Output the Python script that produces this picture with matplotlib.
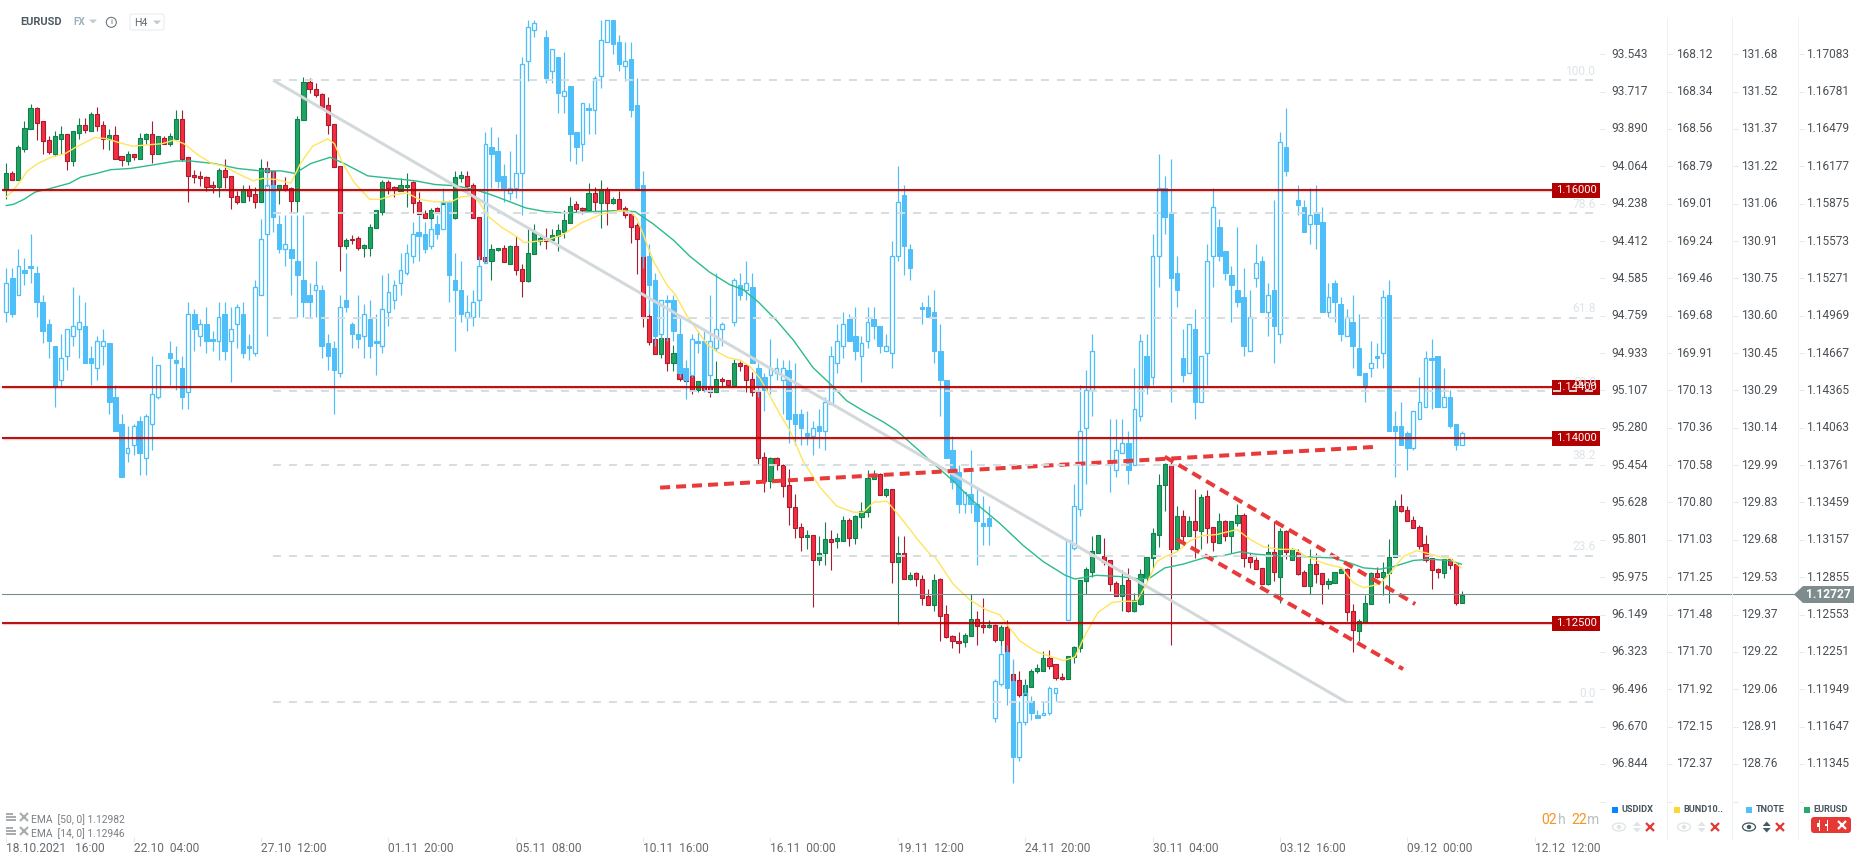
import matplotlib
matplotlib.use('Agg')
import matplotlib.pyplot as plt
import numpy as np
from matplotlib.patches import Rectangle, FancyBboxPatch, Circle, Ellipse, Polygon

plt.rcParams['font.family'] = ['Roboto', 'DejaVu Sans']
nan = float('nan')

# EURUSD H4 quotes, in 1/10000
eur_open = [11599,11612,11607,11632,11648,11665,11654,11639,11628,11640,
    11644,11622,11645,11651,11646,11660,11651,11640,11643,11626,
    11622,11628,11624,11640,11644,11628,11641,11636,11640,11656,
    11625,11611,11610,11609,11603,11601,11615,11610,11594,11589,
    11599,11595,11589,11616,11614,11599,11603,11600,11590,11655,
    11686,11680,11676,11667,11652,11618,11553,11559,11560,11552,
    11552,11568,11581,11605,11601,11598,11601,11605,11589,11580,
    11576,11584,11587,11589,11576,11608,11610,11603,11577,11544,
    11541,11550,11552,11539,11553,11535,11525,11547,11557,11560,
    11558,11561,11565,11572,11587,11584,11582,11596,11588,11599,
    11588,11591,11584,11579,11570,11560,11497,11478,11466,11479,
    11459,11459,11448,11448,11437,11441,11440,11435,11446,11445,
    11440,11459,11457,11446,11436,11383,11363,11382,11376,11360,
    11342,11326,11318,11320,11299,11305,11316,11315,11315,11332,
    11317,11334,11338,11365,11369,11352,11357,11298,11305,11284,
    11289,11284,11270,11263,11284,11256,11238,11234,11233,11238,
    11252,11247,11245,11247,11235,11245,11207,11202,11190,11197,
    11210,11210,11220,11215,11205,11203,11221,11228,11282,11290,
    11305,11303,11299,11281,11270,11283,11258,11264,11285,11301,
    11320,11360,11377,11308,11335,11319,11331,11323,11351,11326,
    11313,11331,11319,11329,11336,11302,11299,11293,11280,11306,
    11286,11323,11299,11306,11290,11278,11296,11289,11280,11281,
    11289,11292,11258,11242,11249,11264,11289,11286,11289,11302,
    11343,11340,11332,11326,11312,11301,11292,11289,11300,11296,
    11265]
eur_close = [11612,11607,11633,11649,11665,11653,11638,11629,11642,11644,
    11622,11646,11651,11647,11660,11650,11640,11643,11624,11623,
    11628,11625,11641,11644,11628,11642,11636,11642,11656,11624,
    11610,11609,11608,11601,11601,11615,11609,11593,11589,11599,
    11594,11589,11616,11613,11600,11603,11599,11590,11656,11686,
    11680,11675,11666,11651,11617,11553,11558,11558,11552,11554,
    11569,11582,11605,11600,11599,11603,11603,11588,11579,11576,
    11582,11580,11589,11585,11609,11611,11602,11576,11543,11541,
    11551,11552,11540,11553,11534,11525,11548,11565,11560,11557,
    11562,11566,11574,11586,11583,11582,11596,11589,11599,11588,
    11591,11582,11578,11569,11559,11496,11476,11466,11479,11459,
    11467,11446,11444,11437,11444,11437,11435,11446,11444,11441,
    11459,11456,11445,11435,11382,11363,11382,11376,11359,11342,
    11325,11318,11320,11299,11305,11316,11314,11317,11332,11317,
    11335,11339,11366,11369,11352,11357,11298,11305,11284,11287,
    11284,11269,11263,11283,11254,11237,11234,11232,11239,11252,
    11246,11245,11247,11235,11245,11223,11201,11190,11198,11210,
    11212,11220,11214,11204,11203,11222,11229,11283,11292,11307,
    11320,11298,11280,11270,11279,11258,11267,11288,11302,11321,
    11360,11377,11308,11335,11319,11331,11324,11350,11325,11314,
    11331,11319,11331,11336,11301,11298,11292,11280,11306,11290,
    11323,11306,11308,11288,11278,11296,11288,11280,11282,11290,
    11292,11257,11243,11250,11265,11289,11286,11290,11302,11343,
    11339,11331,11325,11311,11299,11291,11290,11300,11295,11265,
    11271]
eur_high = [11620,11614,11635,11654,11668,11666,11654,11642,11646,11650,
    11644,11646,11657,11657,11662,11666,11654,11648,11650,11626,
    11630,11628,11645,11645,11654,11642,11642,11645,11663,11663,
    11625,11615,11614,11610,11606,11616,11624,11610,11598,11603,
    11603,11601,11624,11622,11614,11603,11609,11601,11658,11690,
    11689,11685,11677,11674,11652,11618,11560,11562,11561,11555,
    11571,11582,11607,11607,11602,11608,11612,11606,11597,11582,
    11584,11585,11590,11589,11614,11614,11614,11604,11577,11544,
    11555,11552,11554,11554,11561,11539,11567,11571,11562,11568,
    11567,11571,11582,11593,11590,11585,11604,11601,11607,11601,
    11593,11598,11586,11581,11572,11568,11504,11481,11482,11479,
    11473,11466,11450,11448,11444,11442,11442,11460,11447,11445,
    11462,11460,11458,11451,11436,11387,11383,11383,11377,11373,
    11353,11329,11324,11320,11319,11330,11324,11321,11335,11333,
    11336,11346,11372,11372,11370,11358,11357,11319,11319,11290,
    11290,11287,11276,11288,11285,11263,11239,11241,11240,11272,
    11258,11269,11251,11248,11247,11251,11217,11210,11203,11211,
    11215,11226,11227,11215,11208,11222,11230,11283,11294,11319,
    11320,11317,11299,11282,11291,11293,11273,11292,11302,11325,
    11369,11378,11381,11343,11340,11335,11357,11353,11356,11326,
    11337,11332,11331,11345,11337,11305,11302,11293,11312,11331,
    11325,11324,11309,11308,11291,11308,11305,11289,11285,11290,
    11293,11293,11264,11252,11271,11290,11294,11298,11316,11348,
    11353,11343,11335,11328,11320,11301,11293,11300,11301,11297,
    11274]
eur_low = [11591,11607,11607,11629,11648,11639,11628,11628,11626,11628,
    11615,11618,11640,11645,11646,11646,11632,11631,11624,11618,
    11619,11623,11624,11636,11620,11628,11636,11634,11640,11622,
    11589,11604,11602,11598,11596,11593,11600,11583,11587,11589,
    11590,11584,11589,11602,11597,11587,11598,11580,11581,11655,
    11677,11674,11665,11644,11617,11533,11551,11555,11550,11544,
    11545,11568,11578,11595,11593,11598,11585,11580,11579,11576,
    11568,11580,11587,11585,11575,11605,11601,11576,11543,11540,
    11526,11549,11540,11539,11530,11512,11524,11547,11554,11551,
    11557,11549,11560,11572,11581,11579,11582,11581,11568,11570,
    11587,11582,11576,11556,11531,11488,11473,11466,11463,11452,
    11452,11444,11443,11434,11435,11436,11431,11435,11440,11440,
    11439,11452,11435,11432,11377,11354,11358,11372,11350,11328,
    11317,11307,11308,11261,11295,11295,11291,11309,11315,11311,
    11312,11325,11334,11365,11352,11350,11281,11248,11284,11283,
    11278,11263,11263,11258,11234,11236,11228,11224,11229,11238,
    11231,11240,11244,11233,11225,11223,11201,11189,11190,11197,
    11208,11210,11211,11202,11202,11203,11216,11225,11272,11286,
    11305,11295,11274,11270,11258,11257,11257,11263,11282,11293,
    11310,11339,11231,11307,11313,11319,11301,11308,11313,11307,
    11313,11315,11305,11327,11294,11293,11292,11280,11279,11282,
    11265,11300,11299,11287,11278,11272,11281,11264,11276,11281,
    11289,11250,11225,11234,11249,11264,11285,11271,11265,11302,
    11338,11331,11325,11308,11298,11276,11285,11285,11292,11263,
    11265]

# TNOTE quotes, in 1/100
t_open = [13062,13076,13069,13079,13081,13078,13066,13057,13048,13034,
    13044,13052,13055,13056,13043,13039,13048,13049,13027,13016,
    13004,13007,13017,13002,13016,13027,nan,13045,13042,13039,
    13029,13061,13052,13057,13051,13050,13061,13050,13057,13061,
    13048,13045,13069,13094,13114,13098,13088,13088,13083,13075,
    13069,13071,13071,13049,13047,13037,13067,13057,13053,13052,
    13059,13050,13048,13062,13067,13074,13078,13085,13095,13094,
    13089,13098,13096,13107,13075,13071,13060,13060,13067,13082,
    13130,13128,13118,13111,13113,13119,13165,13178,nan,13175,
    13161,13167,13151,13155,13136,13131,13146,13145,13159,13173,
    13182,13173,13163,13166,13147,13114,13085,13075,13053,13067,
    13067,13053,13039,13036,13050,13050,13036,13047,13055,nan,
    13058,13073,13071,13072,13039,13035,13036,13037,13034,13038,
    13020,13020,13012,13011,13015,13013,13024,13041,13048,13059,
    13052,13044,13050,13059,13056,13046,13045,13085,13110,13088,
    nan,13064,13064,13062,13046,13034,13005,12996,12983,12987,
    12983,12975,12977,12895,12909,12922,12910,12879,12893,12902,
    12896,12896,12897,12905,nan,12935,12965,12981,13014,13030,
    nan,nan,13000,12997,13004,13008,12999,13019,13044,13035,
    13085,13113,13103,13078,13043,13037,13055,13025,13045,13085,
    13097,13087,13077,13071,13068,13046,13076,13083,13062,13071,
    13053,13130,nan,13108,13105,13098,13103,13099,13062,13074,
    13065,13052,13058,13047,13037,13039,13044,13045,13069,13015,
    13015,13012,13006,13018,13023,13043,13044,13023,13027,13016,
    13007]
t_close = [13074,13061,13081,13078,13080,13066,13054,13050,13031,13043,
    13055,13056,13058,13041,13041,13050,13050,13025,13013,12994,
    13006,13015,13004,13019,13028,13040,nan,13043,13041,13027,
    13061,13055,13057,13050,13050,13060,13046,13055,13064,13045,
    13047,13072,13092,13114,13101,13088,13090,13084,13077,13066,
    13066,13073,13048,13044,13038,13064,13064,13053,13051,13061,
    13048,13049,13063,13070,13073,13079,13086,13094,13093,13088,
    13096,13094,13107,13077,13071,13061,13062,13066,13081,13131,
    13127,13116,13113,13113,13119,13164,13179,13181,nan,13158,
    13170,13152,13153,13135,13130,13148,13145,13158,13174,13182,
    13172,13164,13165,13145,13112,13085,13073,13052,13067,13066,
    13054,13037,13034,13051,13049,13032,13050,13055,13057,nan,
    13075,13069,13074,13041,13032,13030,13039,13039,13039,13018,
    13016,13014,13011,13014,13013,13025,13044,13050,13057,13050,
    13046,13049,13058,13056,13048,13048,13085,13107,13089,13080,
    nan,13063,13060,13046,13034,13002,12992,12983,12988,12983,
    12976,12974,12974,12910,12921,12907,12879,12893,12905,12897,
    12895,12897,12907,12907,nan,12968,12982,13013,13030,13046,
    nan,nan,12999,13005,13008,12997,13022,13050,13032,13085,
    13113,13101,13076,13071,13036,13057,13025,13044,13083,13105,
    13085,13078,13073,13066,13048,13060,13082,13062,13069,13056,
    13132,13120,nan,13106,13095,13102,13098,13062,13068,13066,
    13053,13060,13048,13036,13031,13041,13043,13068,13013,13013,
    13007,13006,13021,13025,13043,13042,13023,13027,13015,13007,
    13012]
t_high = [13080,13080,13088,13084,13094,13081,13069,13059,13048,13053,
    13055,13072,13069,13066,13048,13052,13055,13049,13032,13020,
    13015,13016,13019,13020,13044,13040,nan,13050,13048,13044,
    13066,13063,13059,13064,13054,13066,13066,13064,13065,13066,
    13053,13075,13100,13122,13120,13102,13102,13102,13102,13102,
    13074,13083,13073,13053,13050,13069,13086,13058,13069,13065,
    13067,13061,13077,13078,13075,13086,13090,13099,13102,13099,
    13100,13102,13113,13108,13086,13083,13069,13071,13085,13136,
    13138,13134,13123,13128,13135,13167,13182,13182,nan,13178,
    13170,13167,13169,13155,13136,13148,13148,13159,13182,13182,
    13182,13176,13173,13173,13158,13120,13090,13078,13067,13069,
    13069,13060,13042,13053,13054,13054,13069,13078,13058,nan,
    13076,13078,13083,13078,13041,13037,13051,13043,13042,13042,
    13041,13022,13021,13017,13022,13027,13048,13057,13062,13061,
    13064,13052,13064,13064,13056,13053,13091,13122,13114,13090,
    nan,13066,13069,13071,13057,13034,13011,12999,12988,13005,
    12989,12986,12982,12911,12925,12925,12919,12902,12909,12904,
    12898,12902,12908,12907,nan,12968,12991,13032,13038,13053,
    nan,nan,13018,13018,13018,13013,13039,13053,13053,13094,
    13127,13118,13125,13085,13055,13057,13063,13044,13090,13113,
    13100,13087,13081,13097,13080,13071,13090,13085,13074,13108,
    13136,13146,nan,13114,13108,13113,13114,13105,13074,13075,
    13068,13063,13069,13061,13037,13050,13049,13071,13075,13021,
    13025,13013,13021,13035,13046,13051,13044,13039,13030,13016,
    13013]
t_low = [13058,13060,13069,13073,13074,13060,13049,13043,13023,13031,
    13038,13048,13043,13041,13032,13034,13040,13020,13013,12994,
    13000,13003,12995,12995,13005,13026,nan,13032,13030,13022,
    13022,13046,13048,13045,13046,13042,13042,13033,13047,13043,
    13042,13044,13069,13052,13095,13086,13081,13069,13060,13060,
    13060,13060,13043,13038,13020,13035,13062,13047,13047,13043,
    13043,13036,13045,13056,13063,13069,13077,13082,13083,13086,
    13088,13092,13096,13066,13046,13058,13054,13056,13060,13082,
    13113,13113,13107,13108,13109,13102,13157,13175,nan,13156,
    13156,13144,13144,13124,13123,13124,13135,13135,13154,13173,
    13168,13161,13157,13142,13112,13080,13061,13048,13051,13050,
    13050,13035,13026,13035,13045,13029,13028,13046,13048,nan,
    13056,13067,13067,13041,13027,13021,13028,13034,13020,13008,
    13007,13007,13007,13003,13006,13005,13024,13037,13043,13050,
    13042,13033,13047,13051,13045,13046,13039,13083,13077,13075,
    nan,13057,13060,13041,13019,13002,12989,12979,12979,12979,
    12958,12966,12966,12893,12908,12900,12868,12877,12892,12894,
    12895,12896,12896,12902,nan,12935,12964,12978,12991,13019,
    nan,nan,12988,12994,13004,12991,12999,13017,13028,13032,
    13072,13094,13025,13064,13033,13037,13018,13025,13032,13072,
    13083,13075,13058,13064,13044,13046,13072,13062,13052,13041,
    13049,13118,nan,13102,13095,13090,13088,13062,13060,13058,
    13050,13052,13039,13036,13025,13035,13039,13039,13013,12994,
    13007,12997,13005,13018,13023,13022,13023,13023,13014,13005,
    13007]

# EMA curves, read at these candle numbers
ema14_i = [0,.9,2.2,3.5,5.2,7.4,9.7,11.4,13,14.6,16.6,18.5,20.8,23.1,25.7,27.7,29.3,31.6,33.9,35.8,38.1,40.7,42.3,44.6,46.9,
    48.5,50.5,53,54.1,55.4,57.3,59.9,61.6,64.2,66.1,68.1,70.7,73.3,75,76.9,78.2,79.5,81.8,84.1,85.4,89,91.6,94.8,98.1,101.2,
    102.8,103.9,105,106.7,108.9,110.3,112.2,115.5,117.1,119,121,122.6,124.3,127.6,129.2,131.4,134.2,136.9,139.7,141.3,143,145.2,
    147.9,150.1,152.3,153.1,156.1,158.9,161.6,163.8,165.5,167.1,169.9,174.3,176.2,177.9,180,182.3,184.2,186.4,
    188,189.7,191,193,195.2,197.1,199.6,202.9,205.1,207.3,210,212.5,214.4,217.7,220.2,222.1,223.8,226.5,228.2,230.3,232.5,234.2,236.4,238,239.9]
ema14_v = [11593,11597,11605,11614,11620,11625,11628,11633,11637,11641,11640,11637,11634,11635,11636,11639,11636,11627,11620,11618,11612,11606,11608,11607,11604,
    11620,11634,11640,11636,11621,11605,11591,11591,11595,11596,11591,11589,11589,11593,11594,11587,11577,11568,11561,11556,11558,11562,11572,11579,11582,
    11581,11576,11563,11541,11522,11514,11497,11474,11468,11463,11461,11456,11446,11417,11404,11379,11358,11343,11338,11338,11346,11347,
    11331,11317,11304,11302,11280,11267,11259,11255,11244,11234,11225,11218,11221,11239,11257,11265,11266,11266,
    11280,11298,11302,11306,11315,11319,11320,11324,11316,11310,11308,11308,11302,11296,11293,11281,11277,11280,11289,11302,11307,11305,11302,11301,11293]
ema50_i = [0,1.2,2.9,4.8,7.4,10.4,12.3,14.9,17.2,20.5,24.4,28,30.3,34.2,38.1,42,45.3,47.6,50.2,53.4,55.7,59.6,63.5,67.4,70.7,74,77.2,79.8,82.5,85.7,89,92.2,96.2,101.2,
    103.7,106.7,110,112.7,116,119.3,121.5,124,127,129.8,133,135.8,138.6,141.3,144.6,146.8,150.7,153.4,156.2,159.4,163.8,167.7,171,174.6,176.2,179.8,183.6,186.9,
    188.6,191,194,197.4,200.7,203.4,206.2,208.9,214.4,218.8,222.1,223.8,226.5,228.7,232,234.7,238,239.9]
ema50_v = [11586,11587,11591,11597,11600,11604,11609,11612,11615,11616,11619,11622,11622,11620,11616,11614,11614,11612,11620,11625,11620,11610,11608,11606,11603,11602,11599,11595,11590,11584,11581,11580,11581,11582,
    11581,11571,11558,11545,11532,11522,11518,11508,11493,11477,11455,11442,11428,11420,11411,11404,11387,11375,11363,11347,11329,11311,11298,11287,11284,11287,11286,11284,
    11285,11293,11296,11301,11303,11306,11304,11303,11302,11301,11296,11293,11292,11294,11299,11300,11299,11296]

# horizontal levels, as they sit on the chart
level_prices = [1.15984, 1.1439, 1.1398, 1.12482]
level_labels = ['1.16000', '1.14400', '1.14000', '1.12500']
last_price = 1.12716
last_label = '1.12727'

# fibonacci retracement, from candle 44 to candle 221
fib_i = [44, 221]
fib_ends = [1.16873, 1.11843]
fib_levels = [100.0, 78.6, 61.8, 50.0, 38.2, 23.6, 0.0]

# hand drawn dashed trend lines (candle, price)
trend_a_i = [107.8, 225.5]
trend_a_p = [1.13579, 1.13908]
trend_b_i = [191.0, 232.3]
trend_b_p = [1.13829, 1.12638]
trend_c_i = [193.0, 230.3]
trend_c_p = [1.13161, 1.12112]

usdidx_ticks = ['93.543','93.717','93.890','94.064','94.238','94.412','94.585','94.759','94.933','95.107',
    '95.280','95.454','95.628','95.801','95.975','96.149','96.323','96.496','96.670','96.844']
bund_ticks = ['168.12','168.34','168.56','168.79','169.01','169.24','169.46','169.68','169.91','170.13',
    '170.36','170.58','170.80','171.03','171.25','171.48','171.70','171.92','172.15','172.37']
tnote_ticks = ['131.68','131.52','131.37','131.22','131.06','130.91','130.75','130.60','130.45','130.29',
    '130.14','129.99','129.83','129.68','129.53','129.37','129.22','129.06','128.91','128.76']
eur_ticks = ['1.17083','1.16781','1.16479','1.16177','1.15875','1.15573','1.15271','1.14969','1.14667','1.14365',
    '1.14063','1.13761','1.13459','1.13157','1.12855','1.12553','1.12251','1.11949','1.11647','1.11345']

time_i = [0, 21, 42, 63, 84, 105, 126, 147, 168, 189, 210, 231, 252]
time_labels = ['18.10.2021   16:00', '22.10  04:00', '27.10  12:00', '01.11  20:00', '05.11  08:00', '10.11  16:00',
    '16.11  00:00', '19.11  12:00', '24.11  20:00', '30.11  04:00', '03.12  16:00', '09.12  00:00', '12.12  12:00']

W, H = 1866, 865
px = 1 / 100 * 72  # one pixel in points


def xp(p):
    # screen pixel to candle number
    return (p - 6.3) / 6.065


def yp(p):
    # screen pixel to eurusd price
    return 1.17522 - p * 8.086e-5


fig = plt.figure(figsize=(W / 100, H / 100), dpi=100, facecolor='white')
ax = fig.add_axes([0, 0, 1, 1])
ax_t = ax.twinx()
ax_top = ax.twinx()
ui = fig.add_axes([0, 0, 1, 1])
for a in (ax, ax_t, ax_top, ui):
    a.axis('off')
    a.patch.set_visible(False)
ax.set_zorder(1)
ax_t.set_zorder(2)
ax_top.set_zorder(3)
ui.set_zorder(4)
ax.set_xlim(xp(0), xp(W))
ax.set_ylim(yp(H), yp(0))
ax_top.set_ylim(yp(H), yp(0))
ax_t.set_ylim(131.903 - H * 0.004115, 131.903)
ui.set_xlim(0, W)
ui.set_ylim(H, 0)

x = np.arange(len(eur_open))
eo, ec, eh, el = [np.array(v) / 10000 for v in (eur_open, eur_close, eur_high, eur_low)]
for mask, fill, dark in ((ec >= eo, '#1fa363', '#0f7f4b'), (ec < eo, '#f52c41', '#a81c2e')):
    top = np.maximum(eo, ec)
    bot = np.minimum(eo, ec)
    ax.vlines(x[mask], top[mask], eh[mask], color=dark, lw=1.1 * px)
    ax.vlines(x[mask], el[mask], bot[mask], color=dark, lw=1.1 * px)
    ax.bar(x[mask], (top - bot)[mask], bottom=bot[mask], width=0.68, color=fill, edgecolor=dark, linewidth=1.1 * px)

to, tc, th, tl = [np.array(v) / 100 for v in (t_open, t_close, t_high, t_low)]
blue = '#4fbff9'
ok = ~np.isnan(to)
ttop = np.maximum(to, tc)
tbot = np.minimum(to, tc)
ax_t.vlines(x[ok], ttop[ok], th[ok], color=blue, lw=1.2 * px)
ax_t.vlines(x[ok], tl[ok], tbot[ok], color=blue, lw=1.2 * px)
solid = ok & (tc < to)
hollow = ok & (tc >= to)
ax_t.bar(x[solid], (ttop - tbot)[solid], bottom=tbot[solid], width=0.74, color=blue, edgecolor=blue, linewidth=1 * px)
ax_t.bar(x[hollow], (ttop - tbot)[hollow], bottom=tbot[hollow], width=0.62, facecolor='none', edgecolor=blue, linewidth=1.3 * px)
ax_t.set_xlim(ax.get_xlim())

# emas
ax_top.plot(ema50_i, np.array(ema50_v) / 10000, color='#2dbb8b', lw=1.4 * px)
ax_top.plot(ema14_i, np.array(ema14_v) / 10000, color='#ffe55c', lw=1.4 * px)

# fib levels and their base line, these stay on top of the price boxes
fib_x = [xp(273), xp(1594)]
for lev in fib_levels:
    p = fib_ends[1] + lev / 100 * (fib_ends[0] - fib_ends[1])
    ax_top.plot(fib_x, [p, p], color='#d5dde1', lw=2 * px, ls=(0, (4, 4)), alpha=0.95, dash_capstyle='butt', zorder=7)
    ax_top.text(xp(1596), p + 9 * 8.086e-5, f'{lev:.1f}', color='#dfe4e8', fontsize=12 * px, ha='right', va='center', zorder=7)
ax_top.plot(fib_i, fib_ends, color='#d3d8db', lw=3 * px, solid_capstyle='butt')

# dashed trend lines
for tx, ty in ((trend_a_i, trend_a_p), (trend_b_i, trend_b_p), (trend_c_i, trend_c_p)):
    ax_top.plot(tx, ty, color='#e93a3a', lw=4 * px, ls=(0, (2.5, 1.5)), dash_capstyle='butt')

# last price
ax_top.plot([xp(2), xp(1794)], [last_price, last_price], color='#7f8c8d', lw=1.1 * px)

# red levels with their price boxes
for p, lab in zip(level_prices, level_labels):
    ax_top.plot([xp(2), xp(1552)], [p, p], color='#b30000', lw=3.4 * px, alpha=0.2, solid_capstyle='butt')
    ax_top.plot([xp(2), xp(1552)], [p, p], color='#b30000', lw=1.8 * px, solid_capstyle='butt')
    ax_top.add_patch(Rectangle((xp(1552), p - 7.5 * 8.086e-5), xp(1600) - xp(1552), 15 * 8.086e-5, color='#b30000', lw=0, zorder=5))
    ax_top.text(xp(1576), p + 0.5 * 8.086e-5, lab, color='white', fontsize=11.2 * px, ha='center', va='center', zorder=6)

# price scales on the right
tick_prices = [float(t) for t in eur_ticks]
for col_x, labels in ((1611, usdidx_ticks), (1676, bund_ticks), (1741.5, tnote_ticks), (1806, eur_ticks)):
    for p, lab in zip(tick_prices, labels):
        ax_top.text(xp(col_x), p, lab, color='#4a5055', fontsize=11.9 * px, ha='left', va='center')
for tick_x in (1600, 1667, 1733, 1799):
    ax_top.hlines(tick_prices + [yp(802)], xp(tick_x), xp(tick_x + 5), color='#e6e8ea', lw=1 * px)
for sep_x in (1667, 1732.5, 1798):
    ax_top.vlines(xp(sep_x), yp(840), yp(18), color='#f0f1f2', lw=1 * px)

# time axis
for ti, lab in zip(time_i, time_labels):
    ax_top.vlines(ti, yp(842), yp(837), color='#e6e8ea', lw=1 * px)
    ax_top.text(ti, yp(848), lab, color='#666b70', fontsize=12 * px, ha='left', va='center')

# last price tag
ui.add_patch(Polygon([(1794, 594.5), (1803, 586), (1854, 586), (1854, 603), (1803, 603)], color='#7f8c8d', lw=0))
ui.text(1806, 594.8, last_label, color='white', fontsize=12 * px, fontweight='bold', ha='left', va='center')

# top left header
ui.text(20, 22.3, 'EURUSD', color='#4b5a63', fontsize=11 * px, fontweight='bold', va='center')
ui.text(73, 22.3, 'FX', color='#9fb0bb', fontsize=10 * px, fontweight='bold', va='center')
ui.add_patch(Polygon([(89, 19.5), (97, 19.5), (93, 23.5)], color='#c4c8cc', lw=0))
ui.add_patch(Circle((111.3, 22.3), 5, fc='none', ec='#5e6a72', lw=1 * px))
ui.text(111.3, 22.4, 'i', color='#5e6a72', fontsize=8.5 * px, ha='center', va='center')
ui.add_patch(FancyBboxPatch((130, 14), 34, 16, boxstyle='round,pad=0,rounding_size=2', fc='white', ec='#e8eaec', lw=1 * px))
ui.text(134.5, 22.5, 'H4', color='#5e6a72', fontsize=10.5 * px, va='center')
ui.add_patch(Polygon([(153, 20.5), (161, 20.5), (157, 24.5)], color='#c4c8cc', lw=0))

# ema legend
for row_y, lab in ((0, 'EMA  [50, 0] 1.12982'), (14, 'EMA  [14, 0] 1.12946')):
    for k in range(3):
        ui.add_patch(Rectangle((6, 813 + row_y + k * 3), 10 - (k == 0) * 3, 2, color='#a9acae', lw=0))
    ui.plot([24], [816.5 + row_y], marker='x', color='#a9acae', ms=5.5, mew=1.5)
    ui.text(31, 819.7 + row_y, lab, color='#7a7f83', fontsize=10.2 * px, va='center')

# candle countdown
for cd_x, cd_t, cd_c in ((1541.7, '02', '#f7941d'), (1558, 'h', '#b9bfc3'), (1571, '22', '#f7941d'), (1587.3, 'm', '#b9bfc3')):
    ui.text(cd_x, 820.5, cd_t, color=cd_c, fontsize=14 * px, va='center')

# instrument switches
panels = [('USDIDX', 1612.3, '#0a84ff', 1619, 1637, 1650),
          ('BUND10..', 1674, '#fdd835', 1684, 1701.7, 1715),
          ('TNOTE', 1746, '#4fc3f7', 1749, 1766.7, 1780)]
for name, sq_x, sq_c, eye_x, arrow_x, del_x in panels:
    ui.add_patch(Rectangle((sq_x, 807.3), 5.8, 5.8, color=sq_c, lw=0))
    ui.text(sq_x + 9.5, 810, name, color='#46545c', fontsize=9.2 * px, fontweight='bold', va='center')
    ic = '#455a64' if name == 'TNOTE' else '#dfe4e7'
    ui.add_patch(Ellipse((eye_x, 827), 13, 8, fc='none', ec=ic, lw=1.3 * px))
    ui.add_patch(Circle((eye_x, 827), 2.2, color=ic, lw=0))
    ui.add_patch(Polygon([(arrow_x - 4, 826), (arrow_x + 4, 826), (arrow_x, 821.5)], color=ic, lw=0))
    ui.add_patch(Polygon([(arrow_x - 4, 828), (arrow_x + 4, 828), (arrow_x, 832.5)], color=ic, lw=0))
    ui.plot([del_x], [827], marker='x', color='#e53935', ms=5.5, mew=1.6)

ui.add_patch(Rectangle((1804, 807.3), 5.8, 5.8, color='#26a96c', lw=0))
ui.text(1813.7, 810, 'EURUSD', color='#46545c', fontsize=9.2 * px, fontweight='bold', va='center')
ui.add_patch(FancyBboxPatch((1811, 817), 40, 16, boxstyle='round,pad=0,rounding_size=3', color='#e53935', lw=0))
for cx, h in ((1818.5, 4), (1826.5, 2.5)):
    ui.plot([cx, cx], [825 - 5, 825 + 5], color='white', lw=1 * px)
    ui.add_patch(Rectangle((cx - 1.5, 825 - h / 2), 3, h, color='white', lw=0))
ui.plot([1841.5], [825], marker='x', color='white', ms=5.5, mew=1.6)

plt.savefig('out.png', dpi=100, facecolor='white')
